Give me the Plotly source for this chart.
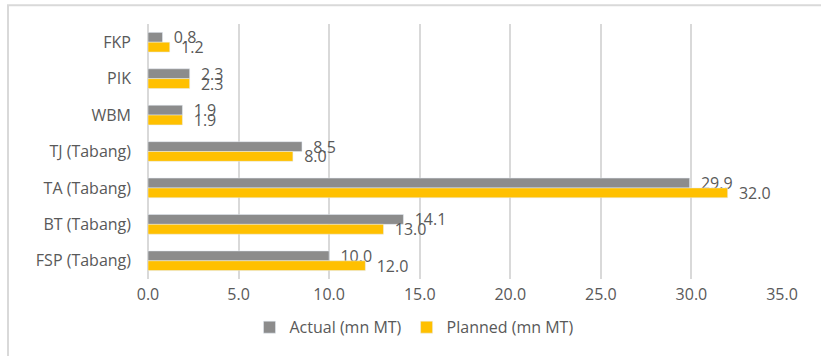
import plotly.graph_objects as go

categories = ["FKP", "PIK", "WBM", "TJ (Tabang)", "TA (Tabang)", "BT (Tabang)", "FSP (Tabang)"]
actual = [0.8, 2.3, 1.9, 8.5, 29.9, 14.1, 10.0]
planned = [1.2, 2.3, 1.9, 8.0, 32.0, 13.0, 12.0]
x_ticks = [0, 5, 10, 15, 20, 25, 30, 35]

FONT = "Open Sans"
TXT = "#595959"
PAD = "\u00a0\u00a0"

fig = go.Figure()
fig.add_trace(go.Bar(
    y=categories, x=actual, orientation="h", name="Actual (mn MT)",
    marker=dict(color="#8c8c8c"),
    text=[f"{PAD}{v:.1f}" for v in actual], textposition="outside",
    textfont=dict(family=FONT, size=16, color=TXT),
    constraintext="none", cliponaxis=False,
))
fig.add_trace(go.Bar(
    y=categories, x=planned, orientation="h", name="Planned (mn MT)",
    marker=dict(color="#ffc000"),
    text=[f"{PAD}{v:.1f}" for v in planned], textposition="outside",
    textfont=dict(family=FONT, size=16, color=TXT),
    constraintext="none", cliponaxis=False,
))

L, R, T, B = 148, 39, 24, 73
W = 821 - L - R
H = 356 - T - B

fig.update_layout(
    width=821, height=356,
    margin=dict(l=L, r=R, t=T, b=B, pad=0),
    barmode="group", bargap=0.46, bargroupgap=0,
    paper_bgcolor="white", plot_bgcolor="white",
    font=dict(family=FONT, size=15, color=TXT),
    showlegend=True,
    legend=dict(
        orientation="h", x=(414 - L) / W, xanchor="center",
        y=(H - (332 - T)) / H, yanchor="middle",
        font=dict(family=FONT, size=16, color=TXT),
        itemwidth=30, traceorder="normal",
    ),
    shapes=[dict(
        type="rect", xref="paper", yref="paper",
        x0=(8 - L) / W, x1=(830 - L) / W,
        y0=(H - (365 - T)) / H, y1=(H - (5 - T)) / H,
        line=dict(color="#d9d9d9", width=2), fillcolor="rgba(0,0,0,0)",
        layer="below",
    )],
)
fig.update_xaxes(
    range=[0, 35], tickvals=x_ticks, ticktext=[f"{v:.1f}" for v in x_ticks],
    showgrid=True, gridcolor="#d9d9d9", gridwidth=1.5,
    zeroline=True, zerolinecolor="#d9d9d9", zerolinewidth=1.5,
    showline=False, ticks="", ticklabelstandoff=4,
    tickfont=dict(family=FONT, size=16, color=TXT),
)
fig.update_yaxes(
    autorange="reversed", showgrid=False, showline=False, ticks="",
    ticklabelstandoff=16,
    tickfont=dict(family=FONT, size=16, color=TXT),
)

fig.write_html("out.html")
